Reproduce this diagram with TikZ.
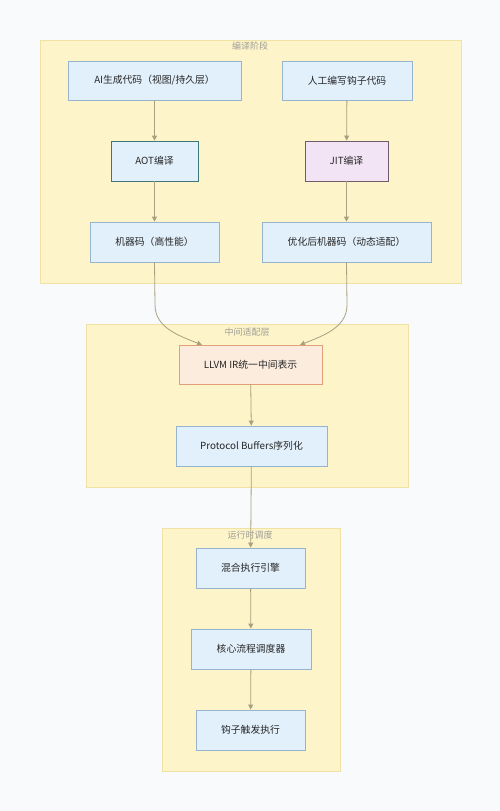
\documentclass[tikz,border=0pt]{standalone}
\usepackage{fontspec}
\setmainfont{Noto Sans CJK SC}
\usetikzlibrary{arrows.meta}
\definecolor{bgc}{RGB}{248,250,252}
\definecolor{clfill}{RGB}{253,244,202}
\definecolor{cldraw}{RGB}{240,226,165}
\definecolor{nfill}{RGB}{226,240,251}
\definecolor{ndraw}{RGB}{150,180,206}
\definecolor{arr}{RGB}{168,160,128}
\definecolor{ttl}{RGB}{160,158,150}
\definecolor{aotdraw}{RGB}{62,118,122}
\definecolor{jitfill}{RGB}{243,228,245}
\definecolor{jitdraw}{RGB}{110,92,108}
\definecolor{llfill}{RGB}{251,236,222}
\definecolor{lldraw}{RGB}{226,160,120}
\tikzset{
  cluster/.style={draw=cldraw, fill=clfill, line width=0.8pt},
  cltitle/.style={text=ttl, font=\fontsize{9}{10}\selectfont, anchor=center, inner sep=0pt},
  box/.style={draw=ndraw, fill=nfill, line width=0.8pt, font=\fontsize{9.8}{11}\selectfont, text=black!85, inner sep=0pt},
  flow/.style={draw=arr, line width=0.8pt, -{Triangle[length=5pt,width=5pt]}}
}
\begin{document}
\begin{tikzpicture}[x=1pt,y=-1pt]
\fill[bgc] (0,0) rectangle (500,811);
\useasboundingbox (0,0) rectangle (500,811);
% clusters
\draw[cluster] (40,40) rectangle (461,283);
\node[cltitle] (t1) at (250,46) {编译阶段};
\draw[cluster] (86,324) rectangle (408,487);
\node[cltitle] (t2) at (247,332) {中间适配层};
\draw[cluster] (162,528) rectangle (340,771);
\node[cltitle] (t3) at (250,535) {运行时调度};
% nodes
\node[box, minimum width=173pt, minimum height=39pt] (ai) at (154.5,80.5) {AI生成代码（视图/持久层）};
\node[box, minimum width=130pt, minimum height=39pt] (hk) at (347,80.5) {人工编写钩子代码};
\node[box, draw=aotdraw, minimum width=87pt, minimum height=40pt] (aot) at (154.5,161) {AOT编译};
\node[box, draw=jitdraw, fill=jitfill, minimum width=83pt, minimum height=40pt] (jit) at (346.5,161) {JIT编译};
\node[box, minimum width=129pt, minimum height=40pt] (mc) at (154.5,242) {机器码（高性能）};
\node[box, minimum width=169pt, minimum height=40pt] (omc) at (346.5,242) {优化后机器码（动态适配）};
\node[box, draw=lldraw, fill=llfill, minimum width=143pt, minimum height=39pt] (ll) at (250.5,364.5) {LLVM IR统一中间表示};
\node[box, minimum width=151pt, minimum height=40pt] (pb) at (251.5,446) {Protocol Buffers序列化};
\node[box, minimum width=109pt, minimum height=40pt] (he) at (250.5,568) {混合执行引擎};
\node[box, minimum width=120pt, minimum height=40pt] (cs) at (251,649) {核心流程调度器};
\node[box, minimum width=109pt, minimum height=40pt] (ht) at (250.5,730) {钩子触发执行};
% connectors
\draw[flow] (ai) -- (aot);
\draw[flow] (hk) -- (jit);
\draw[flow] (aot) -- (mc);
\draw[flow] (jit) -- (omc);
\coordinate (l1) at (155,305);
\coordinate (l2) at (347,305);
\coordinate (le1) at (202,345);
\coordinate (le2) at (300,345);
\draw[flow] (mc.south) -- (l1) .. controls (155,328) and (180,336) .. (le1);
\draw[flow] (omc.south) -- (l2) .. controls (347,328) and (322,336) .. (le2);
\draw[flow] (ll) -- (pb);
\draw[flow] (pb) -- (he);
\draw[flow] (he) -- (cs);
\draw[flow] (cs) -- (ht);
\end{tikzpicture}
\end{document}
